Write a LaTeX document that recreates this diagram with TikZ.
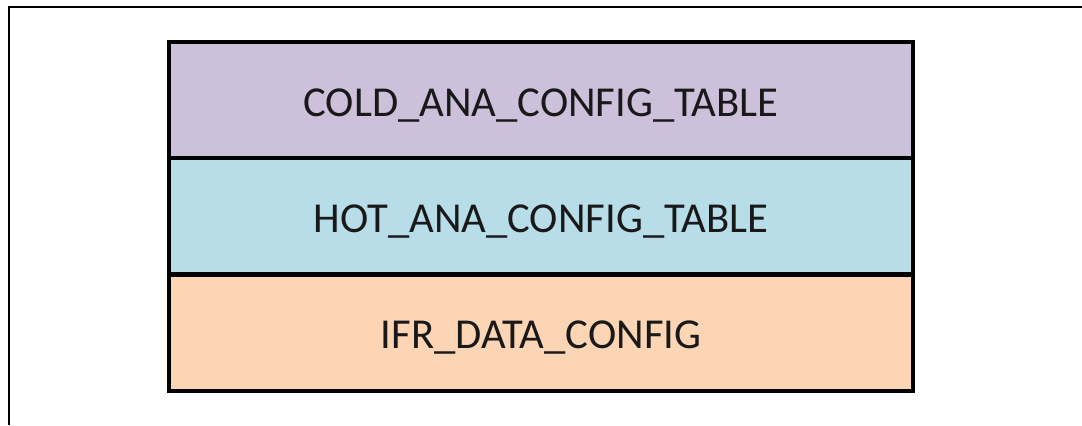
\documentclass[tikz,border=0pt]{standalone}
\usepackage{fontspec}
\setmainfont{Carlito}
\definecolor{cpurple}{HTML}{CCC0DA}
\definecolor{cblue}{HTML}{B7DEE8}
\definecolor{corange}{HTML}{FCD5B4}
\tikzset{
  frameline/.style={line width=2pt, black},
  band/.style={draw=black, line width=3pt, minimum width=744*0.75pt, minimum height=116*0.75pt, inner sep=0pt},
  bandlabel/.style={inner sep=0pt, font=\fontsize{32}{36}\selectfont, text=black!90, anchor=base},
}
\begin{document}
\begin{tikzpicture}[x=0.75pt,y=0.75pt]
\useasboundingbox (0,0) rectangle (1082,425);
\coordinate (tl) at (9,418);
\coordinate (tr) at (1082,418);
\coordinate (bl) at (9,0);
\draw[frameline] (tr) -- (tl) -- (bl);
\node[band, fill=cpurple] (cold) at (541,325) {};
\node[band, fill=cblue] (hot) at (541,209) {};
\node[band, fill=corange] (ifr) at (541,92) {};
\node[bandlabel] (coldt) at ([yshift=-17*0.75pt]cold.center) {COLD\_ANA\_CONFIG\_TABLE};
\node[bandlabel] (hott) at ([yshift=-17*0.75pt]hot.center) {HOT\_ANA\_CONFIG\_TABLE};
\node[bandlabel] (ifrt) at ([yshift=-16*0.75pt]ifr.center) {IFR\_DATA\_CONFIG};
\end{tikzpicture}
\end{document}
